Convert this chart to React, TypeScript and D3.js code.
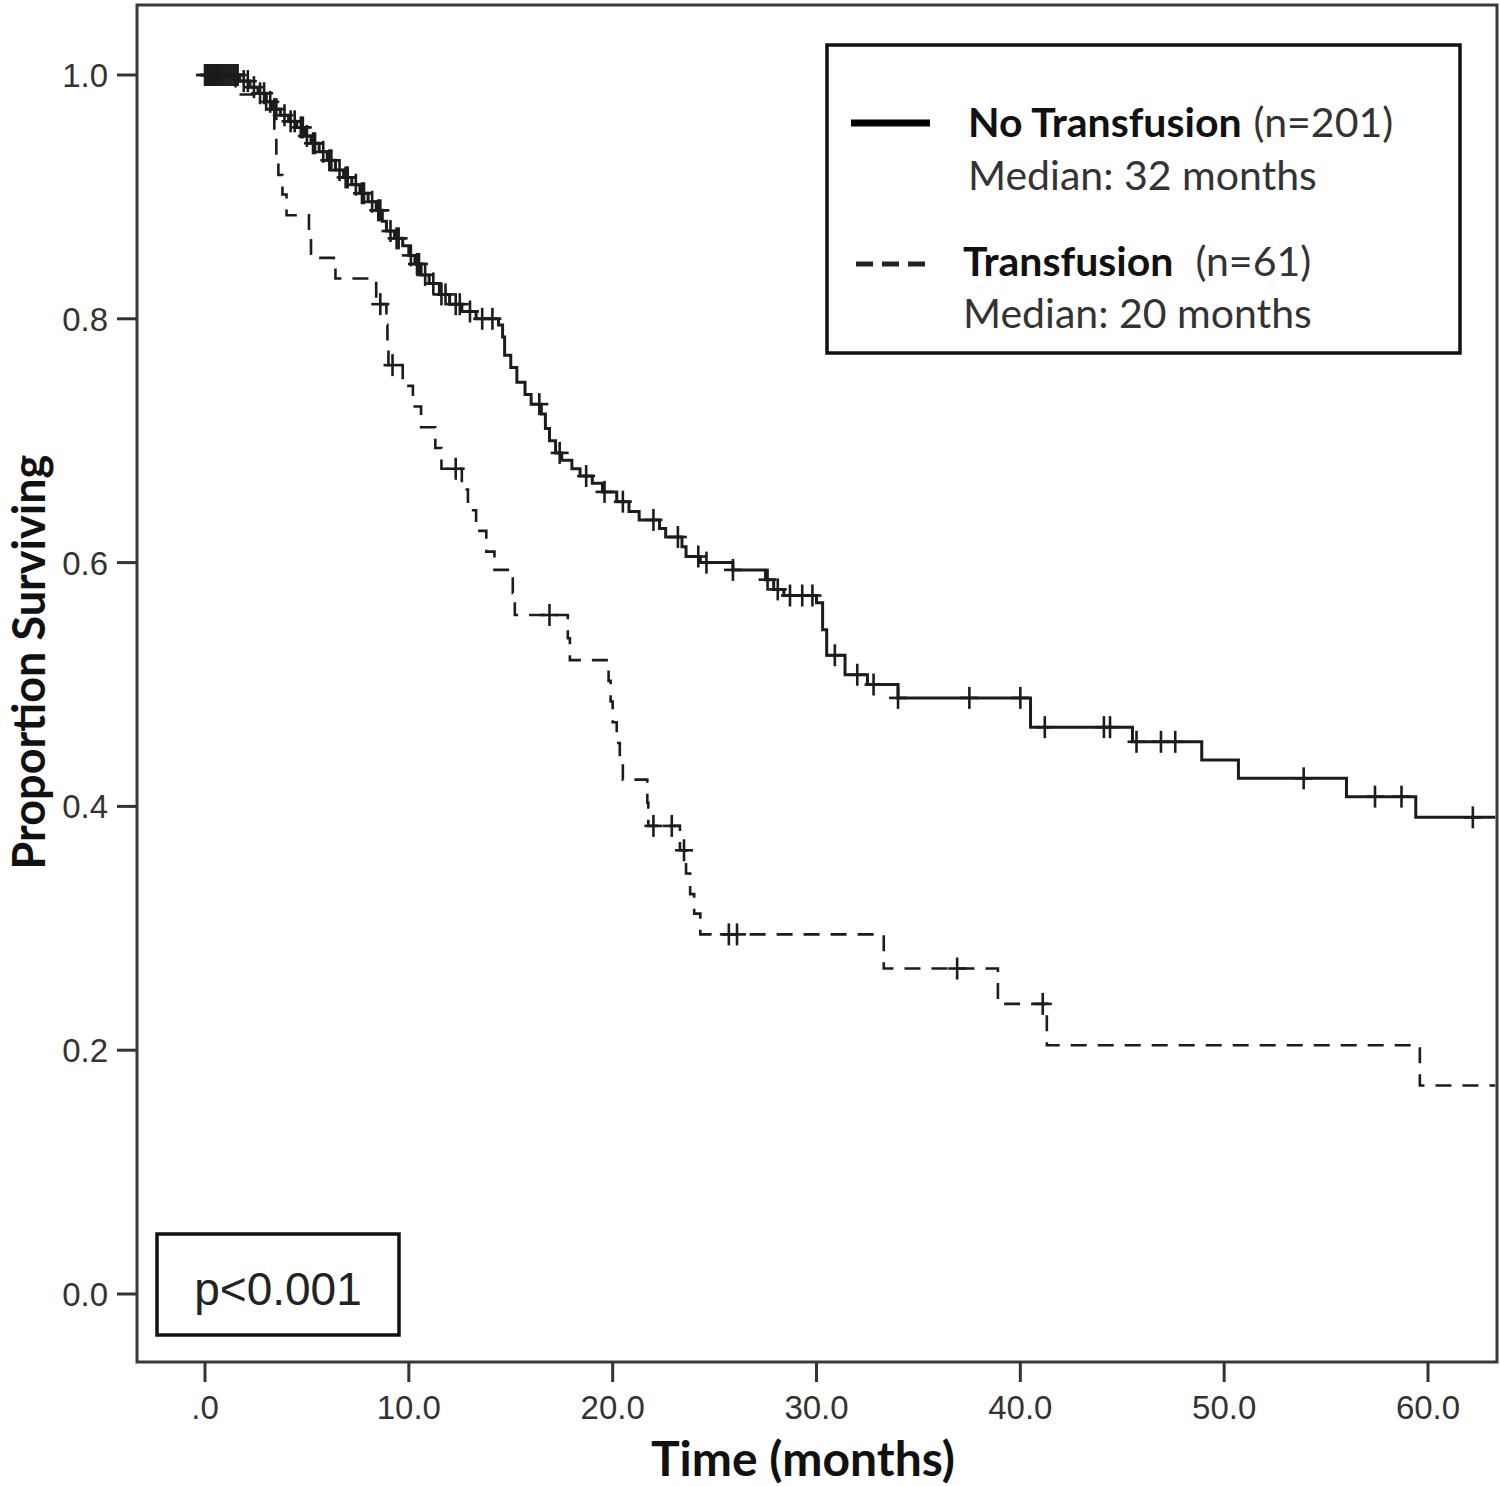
import React from "react";
import * as d3 from "d3";

// ---- Data ----
const xTicks = [0, 10, 20, 30, 40, 50, 60];
const xTickLabels = [".0", "10.0", "20.0", "30.0", "40.0", "50.0", "60.0"];
const yTicks = [0, 0.2, 0.4, 0.6, 0.8, 1.0];
const yTickLabels = ["0.0", "0.2", "0.4", "0.6", "0.8", "1.0"];

const endTime = 63.3;

// No Transfusion (n=201): event times and survival after each event
const noTxTimes = [1.7, 2.2, 2.6, 3.0, 3.3, 3.7, 4.1, 4.5, 4.9, 5.2, 5.6, 6.0, 6.4, 6.8, 7.2, 7.6, 8.0, 8.4, 8.7, 8.9, 9.3, 9.7, 10.0, 10.3, 10.6, 11.0, 11.5, 12.0, 12.6, 13.3, 14.4, 14.6, 14.7, 15.0, 15.3, 15.7, 16.0, 16.5, 16.7, 16.9, 17.2, 17.5, 18.0, 18.4, 19.0, 19.5, 20.2, 20.8, 21.3, 22.3, 22.6, 23.4, 23.6, 24.3, 25.9, 27.5, 27.9, 28.4, 30.0, 30.3, 30.5, 31.4, 32.5, 34.0, 40.5, 45.5, 48.9, 50.7, 56.0, 59.4];
const noTxSurv = [0.995, 0.990, 0.985, 0.978, 0.972, 0.967, 0.962, 0.957, 0.950, 0.944, 0.937, 0.930, 0.922, 0.916, 0.910, 0.903, 0.896, 0.889, 0.880, 0.872, 0.866, 0.860, 0.852, 0.845, 0.836, 0.829, 0.820, 0.812, 0.806, 0.800, 0.795, 0.785, 0.770, 0.760, 0.748, 0.738, 0.730, 0.722, 0.710, 0.700, 0.690, 0.684, 0.677, 0.671, 0.665, 0.658, 0.650, 0.642, 0.635, 0.628, 0.621, 0.613, 0.605, 0.600, 0.594, 0.586, 0.578, 0.573, 0.567, 0.545, 0.524, 0.508, 0.500, 0.489, 0.465, 0.453, 0.438, 0.423, 0.408, 0.391];
const noTxCensored = [0.0, 0.1, 0.2, 0.3, 0.4, 0.5, 0.6, 0.7, 0.8, 0.9, 1.0, 1.1, 1.2, 1.3, 1.4, 1.5, 1.6, 1.9, 2.1, 2.4, 2.7, 2.9, 3.2, 3.4, 3.5, 3.9, 4.2, 4.4, 4.7, 4.8, 5.0, 5.3, 5.4, 5.8, 6.1, 6.2, 6.6, 6.9, 7.0, 7.4, 7.7, 7.8, 8.2, 8.5, 8.6, 9.1, 9.4, 9.5, 10.1, 10.4, 10.5, 10.8, 11.2, 11.6, 11.8, 12.3, 12.5, 13.0, 13.6, 14.1, 16.4, 17.4, 18.7, 19.6, 20.5, 22.0, 23.2, 24.2, 24.6, 25.9, 27.6, 28.1, 28.7, 29.3, 29.8, 30.9, 32.0, 32.8, 34.0, 37.5, 40.0, 41.2, 44.1, 44.4, 45.7, 46.9, 47.6, 53.9, 57.4, 58.7, 62.2];

// Transfusion (n=61)
const txTimes = [1.5, 3.0, 3.4, 3.5, 3.6, 3.8, 4.0, 5.1, 5.2, 6.4, 8.4, 8.9, 8.95, 9.0, 9.7, 10.2, 10.6, 11.3, 11.6, 12.6, 12.9, 13.3, 13.8, 14.2, 15.1, 15.2, 17.8, 17.9, 19.8, 19.9, 20.0, 20.2, 20.35, 20.5, 21.7, 21.75, 23.3, 23.6, 23.8, 24.0, 24.3, 33.3, 38.9, 41.3, 59.6];
const txSurv = [0.984, 0.967, 0.951, 0.934, 0.918, 0.902, 0.885, 0.869, 0.850, 0.833, 0.812, 0.795, 0.779, 0.762, 0.745, 0.728, 0.711, 0.694, 0.677, 0.660, 0.643, 0.626, 0.609, 0.594, 0.575, 0.557, 0.538, 0.520, 0.503, 0.486, 0.469, 0.452, 0.438, 0.422, 0.403, 0.384, 0.364, 0.345, 0.328, 0.312, 0.295, 0.267, 0.238, 0.204, 0.171];
const txCensored = [8.6, 9.2, 12.3, 16.9, 22.0, 22.9, 23.5, 25.7, 26.1, 36.9, 41.1];

// ---- Layout ----
const W = 1500;
const H = 1486;
const frame = { left: 137, top: 5, right: 1497, bottom: 1362 };

const x = d3.scaleLinear().domain([0, 60]).range([205, 1428]);
const y = d3.scaleLinear().domain([0, 1]).range([1294, 75]);

function buildSeries(times: number[], surv: number[]) {
  const pts: [number, number][] = [[0, 1]];
  times.forEach((t, i) => pts.push([t, surv[i]]));
  pts.push([endTime, surv[surv.length - 1]]);
  return pts;
}

function survAt(times: number[], surv: number[], t: number) {
  let s = 1;
  for (let i = 0; i < times.length; i++) {
    if (times[i] <= t) s = surv[i];
    else break;
  }
  return s;
}

const line = d3
  .line<[number, number]>()
  .x((d) => x(d[0]))
  .y((d) => y(d[1]))
  .curve(d3.curveStepAfter);

const lineColor = "#1c1c1c";
const tickFont = "'Liberation Sans', Arial, sans-serif";
const labelFont = "Lato, 'Open Sans', sans-serif";

function Censors({ times, surv, tcens }: { times: number[]; surv: number[]; tcens: number[] }) {
  return (
    <g stroke={lineColor} strokeWidth={2.6}>
      {tcens.map((t, i) => {
        const cx = x(t);
        const cy = y(survAt(times, surv, t));
        return (
          <g key={i}>
            <line x1={cx} x2={cx} y1={cy - 11} y2={cy + 11} />
            <line x1={cx - 9} x2={cx + 9} y1={cy} y2={cy} />
          </g>
        );
      })}
    </g>
  );
}

export default function App() {
  const noTx = buildSeries(noTxTimes, noTxSurv);
  const tx = buildSeries(txTimes, txSurv);
  return (
    <svg
      width={W}
      height={H}
      style={{ position: "absolute", left: 0, top: 0, background: "#fff" }}
    >
      <rect x={0} y={0} width={W} height={H} fill="#fff" />
      {/* frame */}
      <rect
        x={frame.left}
        y={frame.top}
        width={frame.right - frame.left}
        height={frame.bottom - frame.top}
        fill="none"
        stroke="#3a3a3a"
        strokeWidth={3}
      />
      {/* y ticks */}
      {yTicks.map((v, i) => (
        <g key={"y" + i}>
          <line x1={frame.left - 20} x2={frame.left} y1={y(v)} y2={y(v)} stroke="#333" strokeWidth={3} />
          <text
            x={frame.left - 29}
            y={y(v) + 12}
            textAnchor="end"
            fontFamily={tickFont}
            fontSize={33}
            fill="#333"
          >
            {yTickLabels[i]}
          </text>
        </g>
      ))}
      {/* x ticks */}
      {xTicks.map((v, i) => (
        <g key={"x" + i}>
          <line x1={x(v)} x2={x(v)} y1={frame.bottom} y2={frame.bottom + 20} stroke="#333" strokeWidth={3} />
          <text
            x={x(v)}
            y={frame.bottom + 57}
            textAnchor="middle"
            fontFamily={tickFont}
            fontSize={33}
            fill="#333"
          >
            {xTickLabels[i]}
          </text>
        </g>
      ))}
      {/* axis titles */}
      <text
        x={803}
        y={1476}
        textAnchor="middle"
        fontFamily={labelFont}
        fontWeight="bold"
        fontSize={48}
        fill="#111"
      >
        Time (months)
      </text>
      <text
        transform={`translate(45,662) rotate(-90)`}
        textAnchor="middle"
        fontFamily={labelFont}
        fontWeight="bold"
        fontSize={45}
        fill="#111"
      >
        Proportion Surviving
      </text>

      {/* curves */}
      <path
        d={line(tx) || ""}
        fill="none"
        stroke={lineColor}
        strokeWidth={2.6}
        strokeDasharray="16 11"
      />
      <path d={line(noTx) || ""} fill="none" stroke={lineColor} strokeWidth={3} />
      <Censors times={txTimes} surv={txSurv} tcens={txCensored} />
      <Censors times={noTxTimes} surv={noTxSurv} tcens={noTxCensored} />

      {/* legend */}
      <rect x={827} y={45} width={633} height={308} fill="#fff" stroke="#111" strokeWidth={3.5} />
      <line x1={851} x2={930} y1={123} y2={123} stroke="#000" strokeWidth={7} />
      <text x={968} y={137} fontFamily={labelFont} fontSize={41} fill="#111">
        <tspan fontWeight="bold">No Transfusion</tspan>
        <tspan dx={12} fill="#333">(n=201)</tspan>
      </text>
      <text x={968} y={190} fontFamily={labelFont} fontSize={41} fill="#333">
        Median: 32 months
      </text>
      <line
        x1={856}
        x2={925}
        y1={264}
        y2={264}
        stroke="#222"
        strokeWidth={5}
        strokeDasharray="17 9"
      />
      <text x={963} y={276} fontFamily={labelFont} fontSize={41} fill="#111">
        <tspan fontWeight="bold">Transfusion</tspan>
        <tspan dx={22} fill="#333">(n=61)</tspan>
      </text>
      <text x={963} y={328} fontFamily={labelFont} fontSize={41} fill="#333">
        Median: 20 months
      </text>

      {/* p-value box */}
      <rect x={157} y={1234} width={242} height={101} fill="#fff" stroke="#111" strokeWidth={3.5} />
      <text x={278} y={1305} textAnchor="middle" fontFamily={tickFont} fontSize={46} fill="#222">
        p&lt;0.001
      </text>
    </svg>
  );
}
